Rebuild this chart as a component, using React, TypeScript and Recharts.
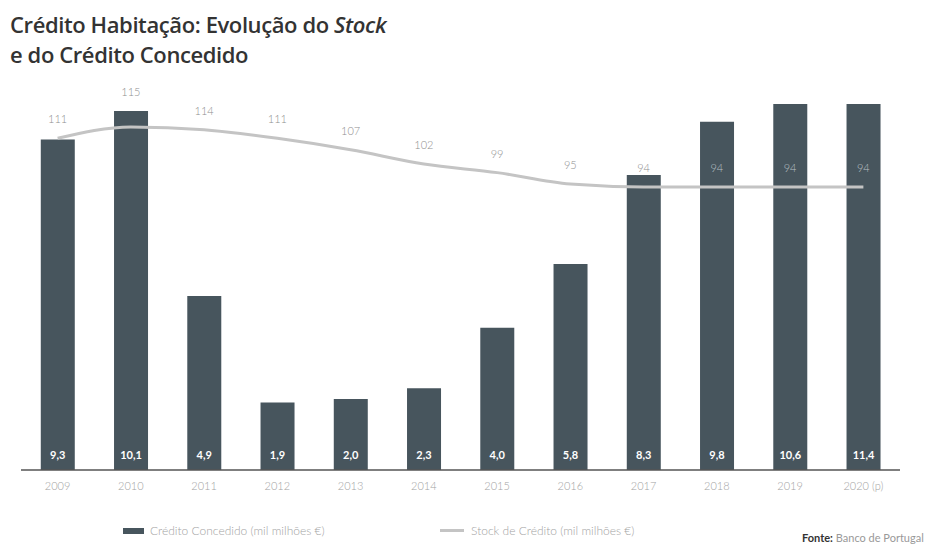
import { ComposedChart, Bar, Line, XAxis, YAxis, LabelList } from 'recharts';

const years = ['2009', '2010', '2011', '2012', '2013', '2014', '2015', '2016', '2017', '2018', '2019', '2020 (p)'];
const creditGranted = [9.3, 10.1, 4.9, 1.9, 2.0, 2.3, 4.0, 5.8, 8.3, 9.8, 10.6, 11.4];
const creditStock = [111, 115, 114, 111, 107, 102, 99, 95, 94, 94, 94, 94];

const data = years.map((year, i) => ({ year, granted: creditGranted[i], stock: creditStock[i] }));

const BAR = '#47555d';
const LINE = '#c4c4c4';
const MUTED = '#a3a3a3';

const fmt = (v: number) => v.toFixed(1).replace('.', ',');

// stock labels: gray above the line, lighter when they sit on top of a bar
const StockLabel = (props: any) => {
  const { x, y, value, index } = props;
  const onBar = index >= 9;
  const dy = index === 1 ? -31 : -15;
  return (
    <text
      x={x}
      y={y + dy}
      textAnchor="middle"
      fontSize={11}
      fontFamily="Lato"
      fontWeight={300}
      fill={onBar ? '#b8c0c4' : '#8f8f8f'}
    >
      {value}
    </text>
  );
};

export default function App() {
  return (
    <div style={{ position: 'absolute', left: 0, top: 0, width: 927, height: 550, background: '#fff', fontFamily: 'Lato' }}>
      <div
        style={{
          position: 'absolute',
          left: 10,
          top: 9,
          fontFamily: 'Open Sans',
          fontWeight: 600,
          fontSize: 22,
          lineHeight: '30px',
          color: '#333',
          letterSpacing: -0.4,
        }}
      >
        Crédito Habitação: Evolução do <i>Stock</i>
        <br />
        e do Crédito Concedido
      </div>

      <div style={{ position: 'absolute', left: 0, top: 0 }}>
        <ComposedChart
          width={927}
          height={550}
          data={data}
          margin={{ top: 104, right: 27, bottom: 50, left: 21 }}
          barCategoryGap="27%"
        >
          <XAxis
            dataKey="year"
            height={30}
            tickLine={false}
            axisLine={{ stroke: '#555', strokeWidth: 1.5 }}
            tickMargin={6}
            tick={{ fontSize: 11, fill: MUTED, fontFamily: 'Lato', fontWeight: 300 }}
            interval={0}
          />
          <YAxis yAxisId="l" hide domain={[0, 10.3]} allowDataOverflow />
          <YAxis yAxisId="r" hide orientation="right" domain={[-5, 123]} allowDataOverflow />
          <Bar yAxisId="l" dataKey="granted" fill={BAR} isAnimationActive={false}>
            <LabelList
              dataKey="granted"
              position="insideBottom"
              offset={11}
              formatter={(v: any) => fmt(Number(v))}
              fill="#fff"
              fontSize={11}
              fontWeight={700}
              fontFamily="Lato"
            />
          </Bar>
          <Line
            yAxisId="r"
            type="monotone"
            dataKey="stock"
            stroke={LINE}
            strokeWidth={3}
            dot={false}
            activeDot={false}
            isAnimationActive={false}
          >
            <LabelList dataKey="stock" content={StockLabel} />
          </Line>
        </ComposedChart>
      </div>

      <div style={{ position: 'absolute', left: 123, top: 523, display: 'flex', alignItems: 'center', fontSize: 12, fontWeight: 300, color: MUTED }}>
        <span style={{ display: 'inline-block', width: 21, height: 6, background: BAR, marginRight: 6 }} />
        Crédito Concedido (mil milhões €)
      </div>
      <div style={{ position: 'absolute', left: 440, top: 523, display: 'flex', alignItems: 'center', fontSize: 12, fontWeight: 300, color: MUTED }}>
        <span style={{ display: 'inline-block', width: 24, height: 3, background: LINE, marginRight: 7 }} />
        Stock de Crédito (mil milhões €)
      </div>
      <div style={{ position: 'absolute', left: 802, top: 531, fontSize: 11, color: '#999' }}>
        <b style={{ color: '#333' }}>Fonte:</b> Banco de Portugal
      </div>
    </div>
  );
}
